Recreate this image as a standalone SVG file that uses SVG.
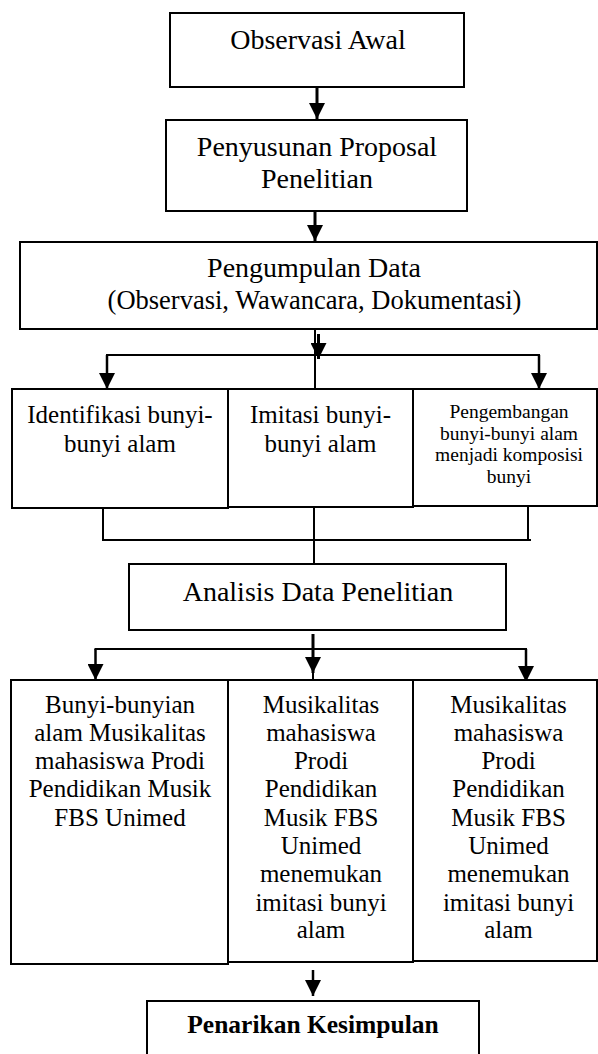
<svg xmlns="http://www.w3.org/2000/svg" width="598" height="1054" viewBox="0 0 598 1054">
<style>
.box{fill:#fff;stroke:#000;stroke-width:2}
.t{font-family:"Liberation Serif","Times New Roman",serif;fill:#000;text-anchor:middle}
.big{font-size:28px}
.mid{font-size:25px}
.sm{font-size:19.5px}
.ln{stroke:#000;stroke-width:2;fill:none}
.ar{stroke:#000;stroke-width:3;fill:none;marker-end:url(#ah)}
.ar2{stroke:#000;stroke-width:2.5;fill:none;marker-end:url(#ah)}
</style>
<defs>
<marker id="ah" markerUnits="userSpaceOnUse" markerWidth="16" markerHeight="16" viewBox="0 0 16 16" refX="16" refY="8" orient="auto">
<path d="M0,0 L16,8 L0,16 z" fill="#000"/>
</marker>
</defs>
<rect width="598" height="1054" fill="#fff"/>
<g id="connectors">
<line class="ar" x1="317" y1="87" x2="317" y2="119"/>
<line class="ar" x1="315" y1="211" x2="315" y2="241"/>
<line class="ln" x1="315" y1="329" x2="315" y2="389"/>
<line class="ar" x1="318.5" y1="334" x2="318.5" y2="359"/>
<line class="ln" x1="106" y1="355" x2="540" y2="355"/>
<line class="ar2" x1="107" y1="355" x2="107" y2="389"/>
<line class="ar2" x1="539" y1="355" x2="539" y2="389"/>
<line class="ln" x1="103" y1="508" x2="103" y2="541"/>
<line class="ln" x1="528" y1="506" x2="528" y2="541"/>
<line class="ln" x1="102" y1="540" x2="531" y2="540"/>
<line class="ln" x1="314" y1="507" x2="314" y2="564"/>
<line class="ln" x1="313" y1="650" x2="313" y2="680"/>
<line class="ar" x1="313" y1="634" x2="313" y2="673"/>
<line class="ln" x1="94.5" y1="649" x2="527" y2="649"/>
<line class="ar2" x1="95.5" y1="649" x2="95.5" y2="680"/>
<line class="ar2" x1="526" y1="649" x2="526" y2="682"/>
<line class="ar2" x1="313" y1="970" x2="313" y2="996"/>
</g>
<g id="n1">
<rect class="box" x="170" y="13" width="294" height="74"/>
<text class="t big" x="318" y="49">Observasi Awal</text>
</g>
<g id="n2">
<rect class="box" x="166" y="120" width="301" height="91"/>
<text class="t big" x="317" y="156">Penyusunan Proposal</text>
<text class="t big" x="317" y="188">Penelitian</text>
</g>
<g id="n3">
<rect class="box" x="20" y="242" width="577" height="87"/>
<text class="t big" x="314" y="277">Pengumpulan Data</text>
<text class="t" style="font-size:26.5px" x="314.5" y="309">(Observasi, Wawancara, Dokumentasi)</text>
</g>
<g id="n4">
<rect class="box" x="12" y="389" width="216" height="119"/>
<text class="t mid" x="120" y="423">Identifikasi bunyi-</text>
<text class="t mid" x="120" y="452">bunyi alam</text>
</g>
<g id="n5">
<rect class="box" x="228" y="389" width="185" height="118"/>
<text class="t mid" x="320.5" y="423">Imitasi bunyi-</text>
<text class="t mid" x="320.5" y="452">bunyi alam</text>
</g>
<g id="n6">
<rect class="box" x="413" y="389" width="184" height="117"/>
<text class="t sm" x="509" y="418">Pengembangan</text>
<text class="t sm" x="509" y="439.5">bunyi-bunyi alam</text>
<text class="t sm" x="509" y="461">menjadi komposisi</text>
<text class="t sm" x="509" y="482.5">bunyi</text>
</g>
<g id="n7">
<rect class="box" x="129" y="564" width="377" height="66"/>
<text class="t big" x="318" y="601">Analisis Data Penelitian</text>
</g>
<g id="n8">
<rect class="box" x="11" y="680" width="217" height="284"/>
<text class="t mid" x="120" y="713">Bunyi-bunyian</text>
<text class="t mid" x="120" y="741">alam Musikalitas</text>
<text class="t mid" x="120" y="769">mahasiswa Prodi</text>
<text class="t mid" x="120" y="797">Pendidikan Musik</text>
<text class="t mid" x="120" y="826">FBS Unimed</text>
</g>
<g id="n9">
<rect class="box" x="228" y="680" width="185" height="282"/>
<text class="t mid" x="321" y="713">Musikalitas</text>
<text class="t mid" x="321" y="741">mahasiswa</text>
<text class="t mid" x="321" y="769">Prodi</text>
<text class="t mid" x="321" y="797">Pendidikan</text>
<text class="t mid" x="321" y="826">Musik FBS</text>
<text class="t mid" x="321" y="854">Unimed</text>
<text class="t mid" x="321" y="882">menemukan</text>
<text class="t mid" x="321" y="911">imitasi bunyi</text>
<text class="t mid" x="321" y="938">alam</text>
</g>
<g id="n10">
<rect class="box" x="413" y="680" width="184" height="281"/>
<text class="t mid" x="508.5" y="713">Musikalitas</text>
<text class="t mid" x="508.5" y="741">mahasiswa</text>
<text class="t mid" x="508.5" y="769">Prodi</text>
<text class="t mid" x="508.5" y="797">Pendidikan</text>
<text class="t mid" x="508.5" y="826">Musik FBS</text>
<text class="t mid" x="508.5" y="854">Unimed</text>
<text class="t mid" x="508.5" y="882">menemukan</text>
<text class="t mid" x="508.5" y="911">imitasi bunyi</text>
<text class="t mid" x="508.5" y="938">alam</text>
</g>
<g id="n11">
<rect class="box" x="147" y="1001" width="332" height="70"/>
<text class="t" style="font-size:25.5px;font-weight:bold" x="313" y="1033">Penarikan Kesimpulan</text>
</g>
</svg>
